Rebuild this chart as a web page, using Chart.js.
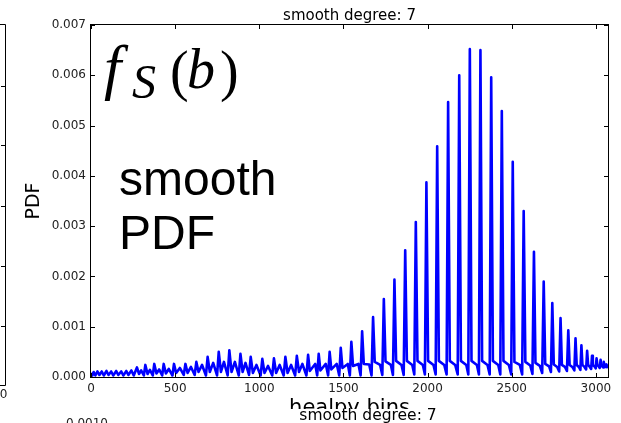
<!DOCTYPE html>
<html>
<head>
<meta charset="utf-8">
<script src="https://cdn.jsdelivr.net/npm/chart.js@4.4.1/dist/chart.umd.min.js"></script>
<style>
  html, body { margin: 0; padding: 0; background: #fff; }
  canvas { display: block; }
</style>
</head>
<body>
<canvas id="pdfChart" width="621" height="423"></canvas>
<script>
// ============================================================
// DATA (healpy bin index vs PDF)
// ============================================================
const N_BINS = 3072;
const X_TICKS = [0, 500, 1000, 1500, 2000, 2500, 3000];
const Y_TICKS = [0, 0.001, 0.002, 0.003, 0.004, 0.005, 0.006, 0.007];

// local maxima (narrow spikes)
const peakBins = [0, 16, 38, 64, 92, 120, 150, 180, 210, 240,
  273, 323, 376, 432, 493, 561, 626, 693, 759, 822, 888, 949, 1018, 1087, 1155, 1223,
  1290, 1353, 1418, 1484, 1547, 1611, 1676, 1740, 1803, 1867, 1930, 1993, 2057, 2122, 2188, 2251, 2314, 2378, 2441, 2506, 2571,
  2632, 2690, 2741, 2790, 2836, 2879, 2914, 2948, 2977, 3004, 3028, 3047, 3063];
const peakPdf = [0.00008, 0.0001, 0.00011, 0.00011, 0.00012, 0.00011, 0.00012, 0.00011, 0.00012, 0.00013,
  0.00019, 0.00024, 0.00026, 0.00026, 0.00026, 0.00026, 0.0003, 0.0004, 0.0005, 0.00053, 0.00046, 0.0004, 0.00036, 0.00037, 0.0004, 0.00042,
  0.00044, 0.00046, 0.0005, 0.00058, 0.0007, 0.00091, 0.00119, 0.00155, 0.00194, 0.00252, 0.00308, 0.00387, 0.00459, 0.00547, 0.006, 0.00652, 0.0065, 0.00596, 0.00529, 0.00428, 0.0033,
  0.00249, 0.0019, 0.00147, 0.00117, 0.00093, 0.00077, 0.00063, 0.00052, 0.00042, 0.00037, 0.00034, 0.0003, 0.00025];

// level just after each spike
const afterBins = [285, 336, 389, 445, 506, 574, 639, 706, 772, 835, 901, 962, 1031, 1100, 1168,
  1236, 1300, 1363, 1428, 1494, 1557, 1621, 1686, 1750, 1813, 1877, 1940, 2003, 2067, 2132,
  2198, 2261, 2324, 2388, 2451, 2516, 2581, 2641, 2699, 2750, 2798, 2844, 2886, 2920, 2954,
  2982, 3009, 3032, 3051];
const afterPdf = [0.00006, 0.00006, 0.00007, 0.00007, 0.00008, 0.00008, 0.0001, 0.0001, 0.0001, 0.0001, 0.0001, 0.00008, 0.00008, 0.00008, 0.00008,
  0.0001, 0.00012, 0.00013, 0.00015, 0.00018, 0.00022, 0.00026, 0.0003, 0.00031, 0.00032, 0.00032, 0.00032, 0.00032, 0.00032, 0.00032,
  0.00032, 0.00032, 0.00032, 0.00032, 0.00032, 0.0003, 0.0003, 0.00028, 0.00026, 0.00025, 0.00024, 0.00024, 0.00024, 0.00024, 0.00024,
  0.00024, 0.00024, 0.00024, 0.00023];

// secondary bumps / plateau between spikes
const bumpBins = [298, 350, 405, 462, 528, 594, 660, 726, 790, 855, 918, 983, 1052, 1121, 1189,
  1256, 1332, 1395, 1460, 1526, 1589, 1653, 1718, 1782, 1845, 1909, 1972, 2035, 2099, 2164,
  2230, 2293, 2356, 2420, 2483, 2548, 2610, 2667, 2722, 2770, 2816, 2860, 2899, 2932, 2964,
  2992, 3017, 3038, 3055];
const bumpPdf = [0.00013, 0.00014, 0.00015, 0.00016, 0.00018, 0.0002, 0.00024, 0.00028, 0.0003, 0.0003, 0.00028, 0.00024, 0.00022, 0.00024, 0.00024,
  0.00026, 0.00026, 0.00026, 0.00026, 0.00026, 0.00026, 0.00025, 0.00024, 0.00024, 0.00024, 0.00024, 0.00024, 0.00024, 0.00024, 0.00024,
  0.00024, 0.00024, 0.00024, 0.00024, 0.00024, 0.00024, 0.00023, 0.00022, 0.00021, 0.0002, 0.0002, 0.0002, 0.0002, 0.0002, 0.0002,
  0.00021, 0.00021, 0.00021, 0.00021];

// valleys (just before each spike) + tail end
const dipBins = [8, 26, 50, 76, 104, 132, 162, 192, 222, 254,
  314, 367, 423, 484, 551, 616, 683, 749, 812, 878, 939, 1008, 1077, 1145, 1213,
  1280, 1344, 1409, 1475, 1538, 1602, 1667, 1731, 1794, 1858, 1921, 1984, 2048, 2113, 2179,
  2242, 2305, 2369, 2432, 2497, 2562, 2623, 2681, 2733, 2782, 2828, 2872, 2908, 2942, 2972,
  2999, 3023, 3043, 3059, 3068, 3072];
const dipPdf = [0.00003, 0.00003, 0.00004, 0.00003, 0.00004, 0.00003, 0.00004, 0.00003, 0.00004, 0.00003,
  0.00003, 0.00003, 0.00003, 0.00003, 0.00004, 0.00004, 0.00003, 0.00003, 0.00003, 0.00003, 0.00004, 0.00003, 0.00003, 0.00003, 0.00003,
  0.00003, 0.00003, 0.00003, 0.00003, 0.00003, 0.00003, 0.00003, 0.00004, 0.00004, 0.00004, 0.00005, 0.00005, 0.00005, 0.00005, 0.00005,
  0.00005, 0.00005, 0.00005, 0.00005, 0.00005, 0.00005, 0.00006, 0.00008, 0.0001, 0.00011, 0.00012, 0.00013, 0.00014, 0.00015, 0.00016,
  0.00017, 0.00018, 0.00019, 0.0002, 0.0002, 0.00018];

// ============================================================
// HELPERS
// ============================================================
function buildTrace() {
  const pts = [];
  const add = (xs, ys) => xs.forEach((x, i) => pts.push({ x, y: ys[i] }));
  add(peakBins, peakPdf);
  add(afterBins, afterPdf);
  add(bumpBins, bumpPdf);
  add(dipBins, dipPdf);
  return pts.sort((a, b) => a.x - b.x);
}

const TICK_FONT = { family: 'DejaVu Sans', size: 12 };

// matplotlib-style frame with inward ticks on all four sides
const frameTicks = {
  id: 'frameTicks',
  afterDatasetsDraw(chart) {
    const { ctx, chartArea: a, scales: { x, y } } = chart;
    ctx.save();
    ctx.strokeStyle = '#000';
    ctx.lineWidth = 1;
    ctx.strokeRect(a.left - 0.5, a.top - 0.5, a.right - a.left + 1, a.bottom - a.top + 1);
    ctx.beginPath();
    X_TICKS.forEach(v => {
      const px = Math.round(x.getPixelForValue(v)) + 0.5;
      ctx.moveTo(px, a.bottom); ctx.lineTo(px, a.bottom - 4);
      ctx.moveTo(px, a.top); ctx.lineTo(px, a.top + 4);
    });
    Y_TICKS.forEach(v => {
      const py = Math.round(y.getPixelForValue(v)) + 0.5;
      ctx.moveTo(a.left, py); ctx.lineTo(a.left + 4, py);
      ctx.moveTo(a.right, py); ctx.lineTo(a.right - 4, py);
    });
    ctx.stroke();
    ctx.restore();
  }
};

// titles, labels, big annotations and the clipped neighbour panels
const textLayer = {
  id: 'textLayer',
  afterDraw(chart) {
    const { ctx, chartArea: a } = chart;
    const cx = (a.left + a.right) / 2;
    ctx.save();
    ctx.fillStyle = '#000';
    ctx.textBaseline = 'alphabetic';

    ctx.textAlign = 'center';
    ctx.font = '15px "DejaVu Sans"';
    ctx.fillText('smooth degree: 7', cx, 20);

    ctx.save();
    ctx.translate(39, (a.top + a.bottom) / 2);
    ctx.rotate(-Math.PI / 2);
    ctx.font = '19px "DejaVu Sans"';
    ctx.fillText('PDF', 0, 0);
    ctx.restore();

    ctx.font = '21px "DejaVu Sans"';
    ctx.fillText('healpy bins', cx, 414);
    // next panel below covers the lower half of the x label
    ctx.fillStyle = '#fff';
    ctx.fillRect(0, 409, 621, 14);
    ctx.fillStyle = '#000';
    ctx.font = '15.5px "DejaVu Sans"';
    ctx.fillText('smooth degree: 7', 368, 420);
    ctx.textAlign = 'right';
    ctx.font = '12px "DejaVu Sans"';
    ctx.fillStyle = '#222';
    ctx.fillText('0.0010', 108, 427);

    // panel on the left, clipped by the figure edge
    ctx.fillText('3000', 7.5, 398);
    ctx.strokeStyle = '#000';
    ctx.lineWidth = 1;
    ctx.beginPath();
    ctx.moveTo(0, 24.5); ctx.lineTo(5.5, 24.5); ctx.lineTo(5.5, 385.5); ctx.lineTo(0, 385.5);
    [86, 145, 206, 266, 326].forEach(ty => { ctx.moveTo(1, ty + 0.5); ctx.lineTo(5.5, ty + 0.5); });
    ctx.stroke();

    // big annotations: f_S(b) and "smooth PDF"
    ctx.fillStyle = '#000';
    ctx.textAlign = 'left';
    ctx.font = 'italic 62px "Liberation Serif"';
    ctx.fillText('f', 104, 88);
    ctx.font = 'italic 48px "Liberation Serif"';
    ctx.fillText('S', 132, 98);
    ctx.font = '56px "Liberation Serif"';
    ctx.fillText('(', 170, 90);
    ctx.font = 'italic 56px "Liberation Serif"';
    ctx.fillText('b', 187, 88);
    ctx.font = '56px "Liberation Serif"';
    ctx.fillText(')', 220, 90);

    ctx.font = '48px "Liberation Sans"';
    ctx.fillText('smooth', 119, 195);
    ctx.fillText('PDF', 119, 249);
    ctx.restore();
  }
};

// ============================================================
// CHART
// ============================================================
new Chart(document.getElementById('pdfChart'), {
  type: 'scatter',
  data: {
    datasets: [{
      label: 'smooth PDF',
      data: buildTrace(),
      showLine: true,
      borderColor: '#0000ff',
      borderWidth: 2.6,
      borderJoinStyle: 'round',
      pointRadius: 0,
      tension: 0
    }]
  },
  options: {
    responsive: false,
    animation: false,
    devicePixelRatio: 1,
    layout: { padding: { top: 25, right: 13, bottom: 0, left: 0 } },
    plugins: { legend: { display: false }, tooltip: { enabled: false } },
    scales: {
      x: {
        type: 'linear',
        min: 0,
        max: N_BINS,
        grid: { display: false, drawTicks: false },
        border: { display: false },
        afterBuildTicks: axis => { axis.ticks = X_TICKS.map(v => ({ value: v })); },
        afterFit: axis => { axis.height = 46; },
        ticks: { font: TICK_FONT, color: '#222', padding: 5, maxRotation: 0, callback: v => String(v) }
      },
      y: {
        min: 0,
        max: 0.007,
        grid: { display: false, drawTicks: false },
        border: { display: false },
        afterBuildTicks: axis => { axis.ticks = Y_TICKS.map(v => ({ value: v })); },
        afterFit: axis => { axis.width = 91; },
        ticks: { font: TICK_FONT, color: '#222', padding: 5, callback: v => v.toFixed(3) }
      }
    }
  },
  plugins: [frameTicks, textLayer]
});
</script>
</body>
</html>
